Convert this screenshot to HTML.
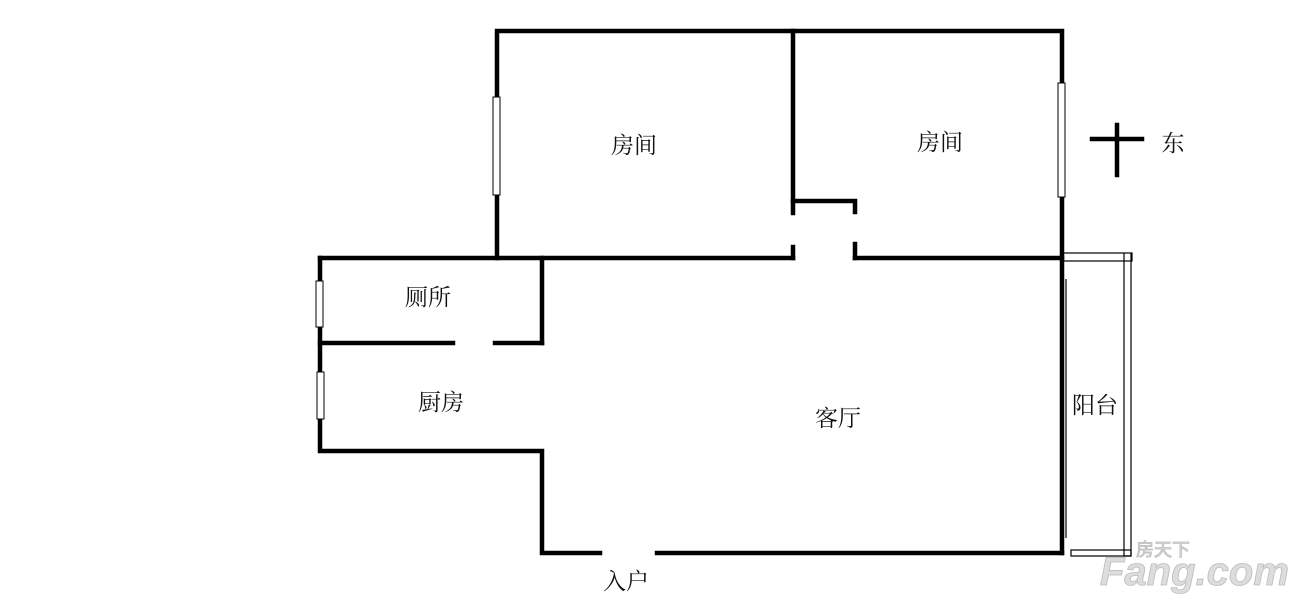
<!DOCTYPE html>
<html><head><meta charset="utf-8"><style>
body{margin:0;background:#fff;width:1300px;height:607px;overflow:hidden}
</style></head><body>
<svg width="1300" height="607" viewBox="0 0 1300 607" xmlns="http://www.w3.org/2000/svg">
<g stroke="#000" stroke-width="4.5" fill="none" stroke-linecap="square">
<path d="M497,258 V31 H1062 V553"/>
<path d="M793,31 V213 M793,247 V258"/>
<path d="M793,201 H855 V212 M855,244 V258"/>
<path d="M320,258 H793 M855,258 H1062"/>
<path d="M542,258 V343 M320,258 V451 H542 V553 H600 M657,553 H1062"/>
<path d="M320,343 H453 M495,343 H542"/>
<path d="M1092,139 H1142 M1117,125 V175"/>
</g>
<g fill="#fff" stroke="#000" stroke-width="1">
<rect x="493" y="97" width="7" height="98"/>
<rect x="1058" y="83" width="7" height="114"/>
<rect x="316" y="281" width="7" height="46"/>
<rect x="317" y="372" width="7" height="47"/>
</g>
<g stroke="#000" stroke-width="1.2" fill="none">
<rect x="1062" y="253" width="70" height="8"/>
<path d="M1124,253 V556 H1131 V253"/>
<path d="M1063,261 V553 M1066,279 V538"/>
<rect x="1071" y="550" width="60" height="6"/>
</g>
<g font-family="'Liberation Serif','Noto Serif CJK SC',serif" font-size="23" fill="#111" text-anchor="middle">
<text x="634" y="153">房间</text>
<text x="940" y="150">房间</text>
<text x="1173" y="151">东</text>
<text x="428" y="305">厕所</text>
<text x="441" y="410">厨房</text>
<text x="838" y="426">客厅</text>
<text x="1095" y="413">阳台</text>
<text x="626" y="589">入户</text>
</g>
<g font-family="'Liberation Sans','Noto Sans CJK SC',sans-serif" fill="#ddd" stroke="#bbb" stroke-width="0.8">
<text x="1136" y="556" font-size="18">房天下</text>
<text x="1100" y="585" font-size="40" font-weight="bold" font-style="italic">Fang.com</text>
</g>
</svg>
</body></html>
